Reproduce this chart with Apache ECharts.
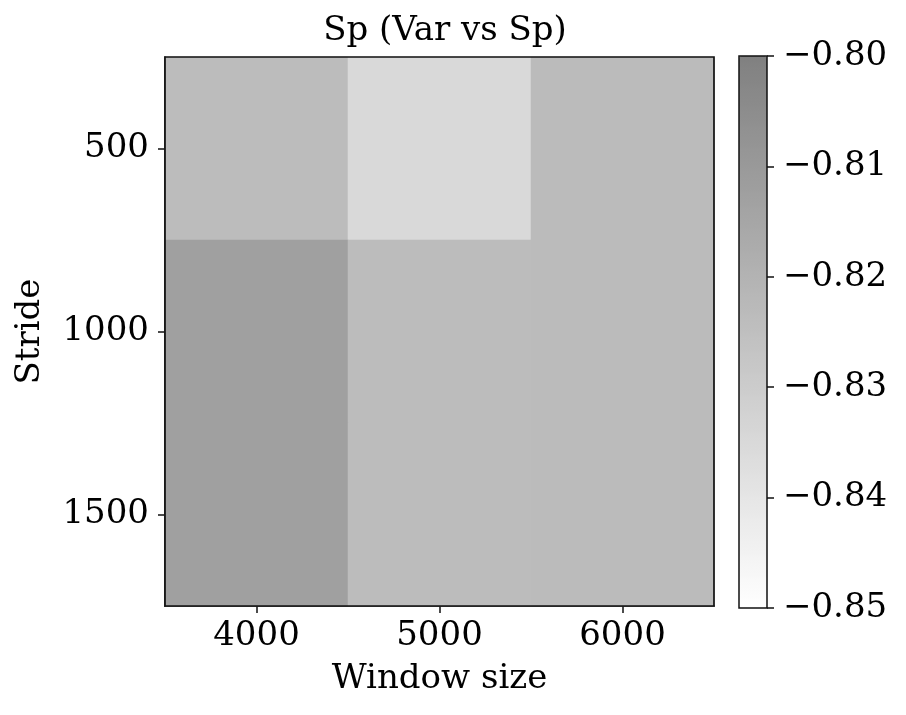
<!DOCTYPE html>
<html><head><meta charset="utf-8">
<script src="https://cdn.jsdelivr.net/npm/echarts@6/dist/echarts.min.js"></script>
<style>html,body{margin:0;padding:0;background:#fff}#c{width:906px;height:715px}</style>
</head><body><div id="c"></div>
<script>
const windowSizes = ['4000', '5000', '6000'];
const strides = ['500', '1000', '1500'];
const rowStride500 = [-0.8237, -0.8351, -0.8233];
const rowStride1000 = [-0.8127, -0.8237, -0.8233];
const rowStride1500 = [-0.8127, -0.8237, -0.8233];
const colorMin = -0.85, colorMax = -0.80, colorStep = 0.01;
const titleText = 'Sp (Var vs Sp)';
const xName = 'Window size', yName = 'Stride';

const rows = [rowStride500, rowStride1000, rowStride1500];
const data = [];
rows.forEach((r, yi) => r.forEach((v, xi) => data.push([xi, yi, v])));

const FONT = 'DejaVu Serif';
const FS = 34;
const fmt = v => (v < 0 ? '\u2212' : '') + Math.abs(v).toFixed(2);

const chart = echarts.init(document.getElementById('c'), null, {renderer: 'canvas'});
chart.setOption({
  animation: false,
  backgroundColor: '#fff',
  title: {text: titleText, left: 440, top: 9, textAlign: 'center',
    textStyle: {fontFamily: FONT, fontSize: FS, fontWeight: 'normal', color: '#000'}},
  grid: [
    {left: 165, top: 57, width: 549, height: 549, show: true, z: 10, borderColor: '#111', borderWidth: 1.7, backgroundColor: 'transparent'},
    {left: 739, top: 56, width: 28, height: 552, show: true, z: 10, borderColor: '#111', borderWidth: 1.5, backgroundColor: 'transparent'}
  ],
  xAxis: [
    {type: 'category', data: windowSizes, gridIndex: 0, name: xName, nameLocation: 'middle', nameGap: 56,
      nameTextStyle: {fontFamily: FONT, fontSize: FS, color: '#000'},
      axisLine: {show: true, lineStyle: {color: '#111', width: 1.7}},
      axisTick: {show: true, alignWithLabel: true, length: 7, lineStyle: {color: '#111', width: 1.5}},
      axisLabel: {fontFamily: FONT, fontSize: FS, color: '#000', margin: 13},
      splitLine: {show: false}},
    {type: 'category', data: [''], gridIndex: 1, show: false}
  ],
  yAxis: [
    {type: 'category', data: strides, gridIndex: 0, inverse: true, name: yName, nameLocation: 'middle', nameGap: 118,
      nameTextStyle: {fontFamily: FONT, fontSize: FS, color: '#000'},
      axisLine: {show: true, lineStyle: {color: '#111', width: 1.7}},
      axisTick: {show: true, alignWithLabel: true, length: 7, lineStyle: {color: '#111', width: 1.5}},
      axisLabel: {fontFamily: FONT, fontSize: FS, color: '#000', margin: 16},
      splitLine: {show: false}},
    {type: 'value', gridIndex: 1, position: 'right', min: colorMin, max: colorMax, interval: colorStep,
      axisLine: {show: false},
      axisTick: {show: true, inside: false, length: 7, lineStyle: {color: '#111', width: 1.5}},
      axisLabel: {fontFamily: FONT, fontSize: FS, color: '#000', margin: 16, formatter: fmt},
      splitLine: {show: false}}
  ],
  visualMap: {
    type: 'continuous', min: colorMin, max: colorMax, seriesIndex: 0,
    left: 739, top: 56, itemWidth: 28, itemHeight: 552, padding: 0,
    text: null, calculable: false, showLabel: false, hoverLink: false,
    inRange: {color: ['#ffffff', '#808080']}
  },
  series: [{
    type: 'heatmap', xAxisIndex: 0, yAxisIndex: 0, data: data,
    itemStyle: {borderWidth: 0}, emphasis: {disabled: true}
  }]
});
</script></body></html>
